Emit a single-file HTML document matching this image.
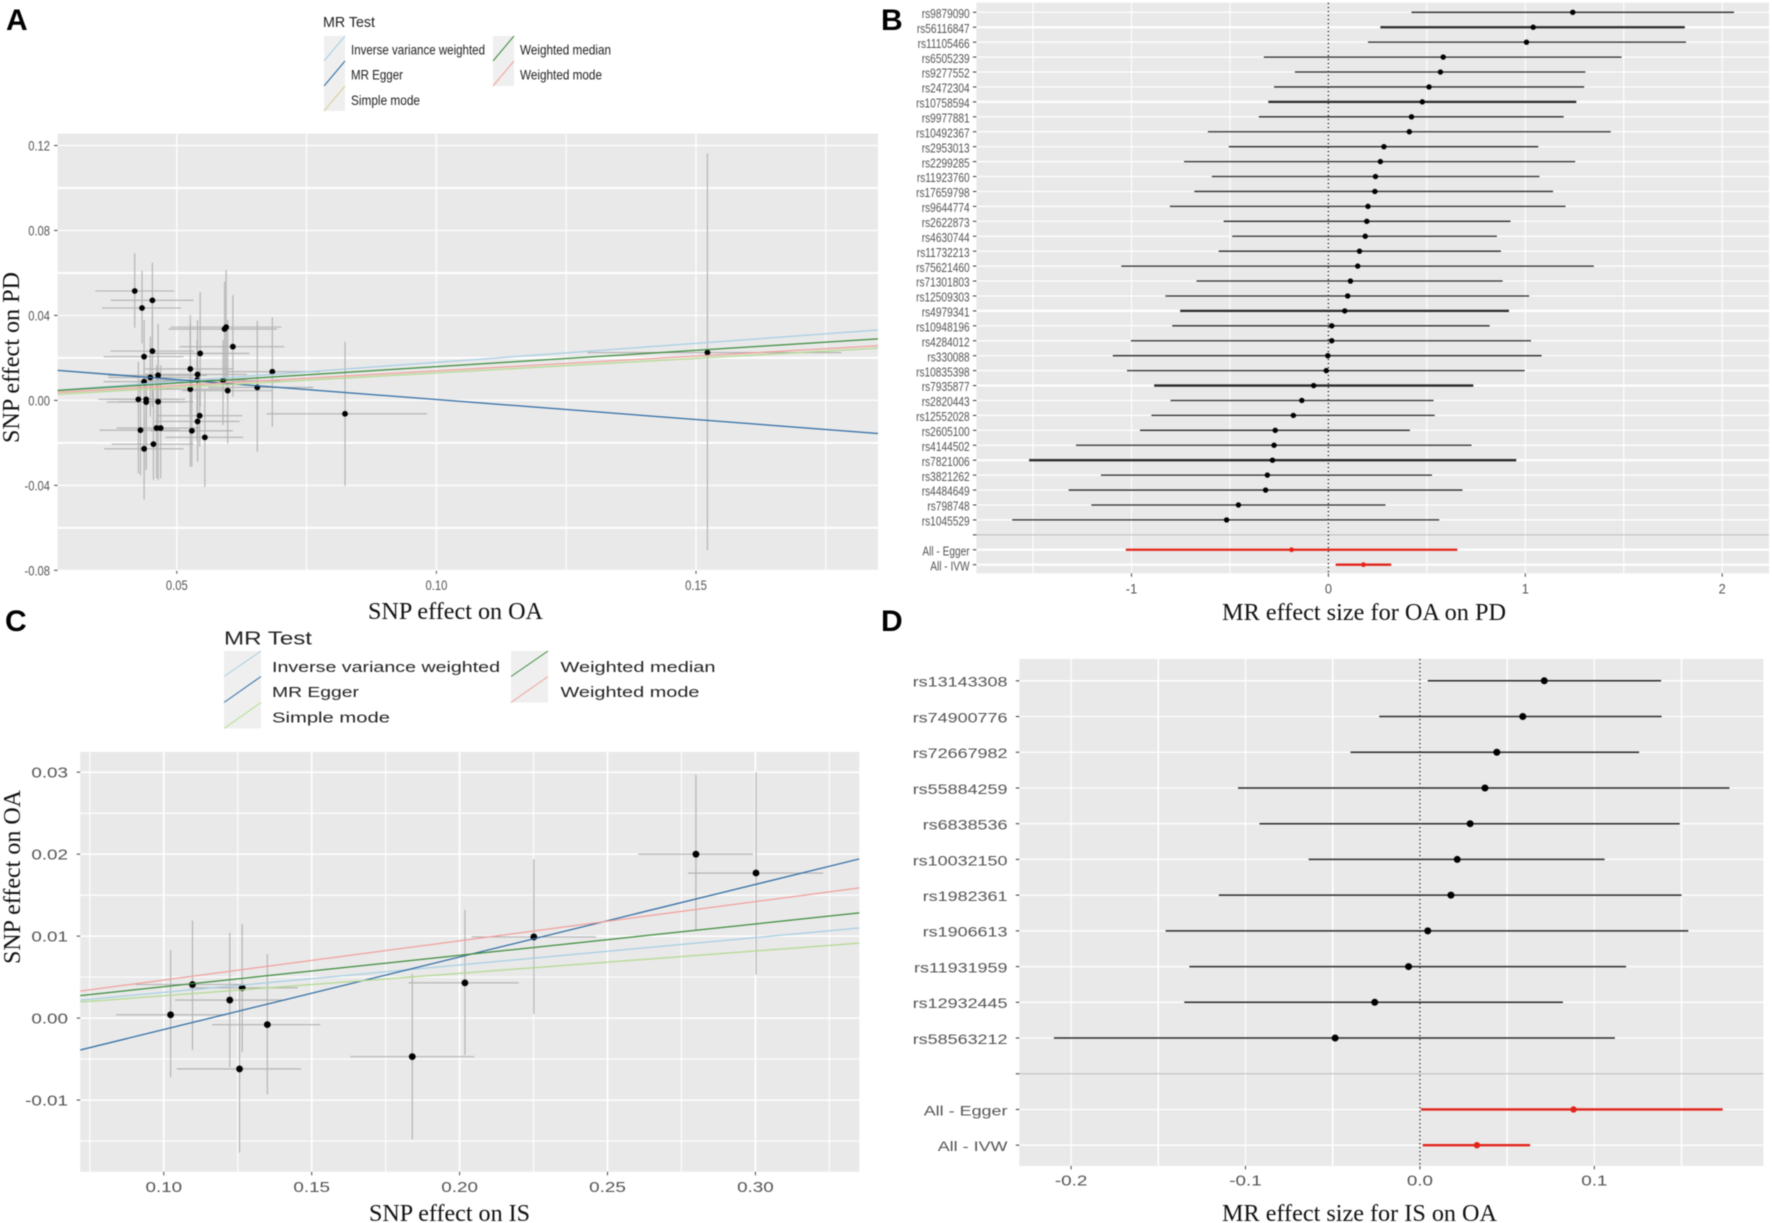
<!DOCTYPE html>
<html lang="en">
<head>
<meta charset="utf-8">
<title>Mendelian randomization scatter and forest plots</title>
<style>
html,body{margin:0;padding:0;background:#fff}
svg{display:block;filter:blur(0.45px)}
.axt{font-family:"Liberation Serif",serif;font-size:24px;fill:#111}
.lg{font-family:"Liberation Sans",sans-serif;fill:#222}
.let{font-family:"Liberation Sans",sans-serif;font-weight:bold;font-size:30px;fill:#000}
</style>
</head>
<body>
<svg id="figure" xmlns="http://www.w3.org/2000/svg" width="1772" height="1223" viewBox="0 0 1772 1223">
  <rect width="1772" height="1223" fill="#fff"/>

  <text class="let" x="6" y="30">A</text>
  <text class="let" x="881" y="30">B</text>
  <text class="let" x="5" y="631">C</text>
  <text class="let" x="881" y="631">D</text>

  <g>
    <text class="lg" x="323" y="27" font-size="15" textLength="52" lengthAdjust="spacingAndGlyphs">MR Test</text>
    <g>
      <rect x="324" y="36" width="21" height="25" fill="#efefef"/>
      <line x1="324" y1="61" x2="345" y2="36" stroke="#a6cee3" stroke-width="1"/>
      <text class="lg" x="351" y="54.5" font-size="14" textLength="134" lengthAdjust="spacingAndGlyphs">Inverse variance weighted</text>
    </g>
    <g>
      <rect x="324" y="61" width="21" height="25" fill="#efefef"/>
      <line x1="324" y1="86" x2="345" y2="61" stroke="#2f6ca3" stroke-width="1"/>
      <text class="lg" x="351" y="79.7" font-size="14" textLength="52" lengthAdjust="spacingAndGlyphs">MR Egger</text>
    </g>
    <g>
      <rect x="324" y="86" width="21" height="25" fill="#efefef"/>
      <line x1="324" y1="111" x2="345" y2="86" stroke="#d8cf9a" stroke-width="1"/>
      <text class="lg" x="351" y="105" font-size="14" textLength="69" lengthAdjust="spacingAndGlyphs">Simple mode</text>
    </g>
    <g>
      <rect x="493" y="36" width="21" height="25" fill="#efefef"/>
      <line x1="493" y1="61" x2="514" y2="36" stroke="#3c8c3c" stroke-width="1"/>
      <text class="lg" x="520" y="54.5" font-size="14" textLength="91" lengthAdjust="spacingAndGlyphs">Weighted median</text>
    </g>
    <g>
      <rect x="493" y="61" width="21" height="25" fill="#efefef"/>
      <line x1="493" y1="86" x2="514" y2="61" stroke="#f0a09c" stroke-width="1"/>
      <text class="lg" x="520" y="79.7" font-size="14" textLength="82" lengthAdjust="spacingAndGlyphs">Weighted mode</text>
    </g>
  </g>

  <g>
    <text class="lg" x="224" y="644.5" font-size="18" textLength="88" lengthAdjust="spacingAndGlyphs">MR Test</text>
    <g>
      <rect x="224" y="651" width="37" height="25.5" fill="#efefef"/>
      <line x1="224" y1="676.5" x2="261" y2="651" stroke="#a6cee3" stroke-width="1"/>
      <text class="lg" x="272" y="672" font-size="15" textLength="228" lengthAdjust="spacingAndGlyphs">Inverse variance weighted</text>
    </g>
    <g>
      <rect x="224" y="676.5" width="37" height="26" fill="#efefef"/>
      <line x1="224" y1="702.5" x2="261" y2="676.5" stroke="#2f6ca3" stroke-width="1"/>
      <text class="lg" x="272" y="697" font-size="15" textLength="87" lengthAdjust="spacingAndGlyphs">MR Egger</text>
    </g>
    <g>
      <rect x="224" y="702.5" width="37" height="26" fill="#efefef"/>
      <line x1="224" y1="728.5" x2="261" y2="702.5" stroke="#b2df8a" stroke-width="1"/>
      <text class="lg" x="272" y="722.5" font-size="15" textLength="118" lengthAdjust="spacingAndGlyphs">Simple mode</text>
    </g>
    <g>
      <rect x="511" y="651" width="37" height="25.5" fill="#efefef"/>
      <line x1="511" y1="676.5" x2="548" y2="651" stroke="#3c8c3c" stroke-width="1"/>
      <text class="lg" x="560.5" y="672" font-size="15" textLength="155" lengthAdjust="spacingAndGlyphs">Weighted median</text>
    </g>
    <g>
      <rect x="511" y="676.5" width="37" height="26" fill="#efefef"/>
      <line x1="511" y1="702.5" x2="548" y2="676.5" stroke="#f0a09c" stroke-width="1"/>
      <text class="lg" x="560.5" y="697" font-size="15" textLength="139" lengthAdjust="spacingAndGlyphs">Weighted mode</text>
    </g>
  </g>

  <g id="panel-a"></g>
  <g id="panel-b"></g>
  <g id="panel-c"></g>
  <g id="panel-d"></g>

  <text class="axt" x="368" y="619" textLength="175" lengthAdjust="spacingAndGlyphs">SNP effect on OA</text>
  <text class="axt" transform="translate(19,443) rotate(-90)" textLength="171" lengthAdjust="spacingAndGlyphs">SNP effect on PD</text>
  <text class="axt" x="1222" y="620" textLength="284" lengthAdjust="spacingAndGlyphs">MR effect size for OA on PD</text>
  <text class="axt" x="369" y="1221" textLength="161" lengthAdjust="spacingAndGlyphs">SNP effect on IS</text>
  <text class="axt" transform="translate(20,964) rotate(-90)" textLength="174" lengthAdjust="spacingAndGlyphs">SNP effect on OA</text>
  <text class="axt" x="1222" y="1221" textLength="275" lengthAdjust="spacingAndGlyphs">MR effect size for IS on OA</text>
</svg>

<script>
/* ---------- Panel A data ---------- */
const aSnpX = [0.0419,0.0453,0.0433,0.0453,0.0437,0.0545,0.0526,0.0608,0.0595,0.0592,0.0540,0.0464,0.0449,0.0437,0.0539,0.0589,0.0526,0.0598,0.0655,0.0684,0.0824,0.0426,0.0441,0.0441,0.0464,0.0544,0.0540,0.0529,0.0554,0.0430,0.0461,0.0469,0.0455,0.0437,0.1522];
const aSnpY = [0.0515,0.0471,0.0435,0.0232,0.0206,0.0221,0.0148,0.0253,0.0345,0.0336,0.0122,0.0118,0.0108,0.0088,0.0096,0.0093,0.0053,0.0046,0.0061,0.0135,-0.0063,0.0005,0.0005,-0.0008,-0.0006,-0.0072,-0.0099,-0.0143,-0.0174,-0.0140,-0.0130,-0.0130,-0.0206,-0.0228,0.0225];
const aXLow = [0.0343,0.0373,0.0356,0.0372,0.0359,0.0452,0.0439,0.0505,0.0488,0.0484,0.0442,0.0368,0.0368,0.0359,0.0436,0.0474,0.0449,0.0510,0.0561,0.0596,0.0673,0.0349,0.0365,0.0365,0.0388,0.0461,0.0458,0.0449,0.0478,0.0351,0.0384,0.0394,0.0375,0.0360,0.1291];
const aXHigh = [0.0495,0.0532,0.0508,0.0533,0.0513,0.0640,0.0609,0.0707,0.0701,0.0693,0.0635,0.0558,0.0532,0.0513,0.0635,0.0699,0.0603,0.0683,0.0763,0.0776,0.0982,0.0503,0.0516,0.0516,0.0532,0.0626,0.0621,0.0608,0.0628,0.0505,0.0539,0.0545,0.0532,0.0513,0.1780];
const aYLow = [0.0342,0.0221,0.0268,-0.0030,0.0033,-0.0030,-0.0061,0.0017,0.0080,0.0096,-0.0281,-0.0124,-0.0077,-0.0344,-0.0187,-0.0116,-0.0312,-0.0203,-0.0242,-0.0124,-0.0402,-0.0344,-0.0328,-0.0312,-0.0375,-0.0218,-0.0289,-0.0312,-0.0407,-0.0352,-0.0367,-0.0367,-0.0375,-0.0466,-0.0705];
const aYHigh = [0.0692,0.0648,0.0611,0.0432,0.0378,0.0509,0.0363,0.0496,0.0614,0.0559,0.0378,0.0360,0.0300,0.0182,0.0284,0.0284,0.0402,0.0378,0.0375,0.0391,0.0276,0.0182,0.0127,0.0127,0.0206,0.0143,0.0190,0.0104,0.0046,0.0096,0.0166,0.0166,0.0049,-0.0061,0.1163];
const aXTicks = [0.05,0.10,0.15];
const aXTickLabels = ['0.05','0.10','0.15'];
const aYTicks = [0.12,0.08,0.04,0,-0.04,-0.08];
const aYTickLabels = ['0.12','0.08','0.04','0.00','-0.04','-0.08'];
const mrMethods = ['Inverse variance weighted','MR Egger','Simple mode','Weighted median','Weighted mode'];
const aSlopes = [0.179,-0.1879,0.1373,0.1537,0.139];
const aIntercepts = [0,0.0192,-0.0008,0.0005,0];

/* ---------- Panel B data ---------- */
const bRows = ['rs9879090','rs56116847','rs11105466','rs6505239','rs9277552','rs2472304','rs10758594','rs9977881','rs10492367','rs2953013','rs2299285','rs11923760','rs17659798','rs9644774','rs2622873','rs4630744','rs11732213','rs75621460','rs71301803','rs12509303','rs4979341','rs10948196','rs4284012','rs330088','rs10835398','rs7935877','rs2820443','rs12552028','rs2605100','rs4144502','rs7821006','rs3821262','rs4484649','rs798748','rs1045529','','All - Egger','All - IVW'];
const bEffect = [1.241,1.04,1.006,0.583,0.569,0.511,0.477,0.422,0.411,0.282,0.264,0.239,0.236,0.201,0.195,0.187,0.158,0.149,0.112,0.098,0.083,0.017,0.017,-0.003,-0.011,-0.075,-0.135,-0.178,-0.27,-0.276,-0.284,-0.31,-0.319,-0.457,-0.517,null,-0.187,0.178];
const bLow = [0.422,0.264,0.201,-0.328,-0.17,-0.276,-0.305,-0.353,-0.612,-0.506,-0.733,-0.592,-0.681,-0.805,-0.532,-0.489,-0.557,-1.052,-0.67,-0.828,-0.753,-0.793,-1.003,-1.095,-1.023,-0.885,-0.802,-0.899,-0.957,-1.282,-1.52,-1.155,-1.319,-1.204,-1.606,null,-1.029,0.037];
const bHigh = [2.06,1.81,1.816,1.489,1.305,1.299,1.259,1.195,1.434,1.066,1.253,1.072,1.141,1.204,0.925,0.856,0.876,1.348,0.885,1.02,0.917,0.819,1.029,1.083,0.997,0.736,0.534,0.54,0.414,0.727,0.954,0.526,0.681,0.29,0.563,null,0.655,0.319];
const bHeavyRows = ['rs56116847','rs10758594','rs4979341','rs7935877','rs7821006','All - Egger','All - IVW'];
const bXTicks = [-1,0,1,2];
const bXTickLabels = ['-1','0','1','2'];

/* ---------- Panel C data ---------- */
const cSnpX = [0.1023,0.1097,0.1223,0.1265,0.135,0.1256,0.184,0.2018,0.2251,0.2799,0.3002];
const cSnpY = [0.0004,0.0041,0.0022,0.0037,-0.0008,-0.0062,-0.0047,0.0043,0.0099,0.02,0.0177];
const cXLow = [0.0838,0.0905,0.1038,0.1086,0.1163,0.1044,0.163,0.1827,0.204,0.2604,0.2772];
const cXHigh = [0.121,0.1296,0.1411,0.1453,0.1529,0.1464,0.205,0.22,0.2461,0.2992,0.3229];
const cYLow = [-0.0072,-0.0039,-0.006,-0.0041,-0.0093,-0.0164,-0.0148,-0.0045,0.0005,0.0107,0.0053];
const cYHigh = [0.0083,0.0119,0.0104,0.0115,0.0078,0.004,0.0054,0.0132,0.0194,0.0297,0.03];
const cXTicks = [0.10,0.15,0.20,0.25,0.30];
const cXTickLabels = ['0.10','0.15','0.20','0.25','0.30'];
const cYTicks = [0.03,0.02,0.01,0,-0.01];
const cYTickLabels = ['0.03','0.02','0.01','0.00','-0.01'];
const cSlopes = [0.0334,0.0885,0.0273,0.0383,0.0478];
const cIntercepts = [-0.0002,-0.01024,0,0,-0.00013];

/* ---------- Panel D data ---------- */
const dRows = ['rs13143308','rs74900776','rs72667982','rs55884259','rs6838536','rs10032150','rs1982361','rs1906613','rs11931959','rs12932445','rs58563212','','All - Egger','All - IVW'];
const dEffect = [0.0713,0.059,0.0441,0.0373,0.0288,0.0214,0.0178,0.0045,-0.0065,-0.0259,-0.0486,null,0.0881,0.0327];
const dLow = [0.0045,-0.0233,-0.0398,-0.1043,-0.092,-0.0638,-0.1153,-0.1458,-0.1322,-0.1351,-0.2099,null,0.0006,0.0016];
const dHigh = [0.1383,0.1386,0.1257,0.1775,0.149,0.1059,0.15,0.1539,0.1182,0.082,0.1118,null,0.1736,0.0632];
const dHeavyRows = ['All - Egger','All - IVW'];
const dXTicks = [-0.2,-0.1,0,0.1];
const dXTickLabels = ['-0.2','-0.1','0.0','0.1'];

const methodColors = {'Inverse variance weighted':'#a6cee3','MR Egger':'#2f6ca3','Simple mode':'#b2d98f','Weighted median':'#3c8c3c','Weighted mode':'#f0a09c'};
const NS = 'http://www.w3.org/2000/svg';

function linear(d0, d1, r0, r1) {
  return function (v) { return r0 + (v - d0) / (d1 - d0) * (r1 - r0); };
}
function make(tag, parent, attrs) {
  const node = document.createElementNS(NS, tag);
  Object.keys(attrs).forEach(function (k) { node.setAttribute(k, attrs[k]); });
  parent.appendChild(node);
  return node;
}
function halfSteps(ticks, lo, hi) {
  const step = Math.abs(ticks[1] - ticks[0]);
  const out = [];
  const sorted = ticks.slice().sort(function (a, b) { return a - b; });
  for (let v = sorted[0] - step / 2; v >= lo; v -= step) out.push(v);
  sorted.forEach(function (t) { if (t + step / 2 <= hi) out.push(t + step / 2); });
  return out;
}
function labelAt(parent, x, y, str, anchor, size, sx) {
  const el = make('text', parent, {
    transform: 'translate(' + x + ',' + y + ') scale(' + sx + ',1)',
    'text-anchor': anchor,
    'font-family': '"Liberation Sans",sans-serif',
    'font-size': size,
    fill: '#555'
  });
  el.textContent = str;
  return el;
}

function drawBase(root, cfg) {
  const bg = make('rect', root, {x: cfg.left, y: cfg.top, width: cfg.right - cfg.left, height: cfg.bottom - cfg.top, fill: '#e9e9e9'});
  
  

  halfSteps(cfg.xTicks, cfg.xMin, cfg.xMax).forEach(function (v) {
    const el = make('line', root, {x1: cfg.x(v), x2: cfg.x(v), y1: cfg.top, y2: cfg.bottom, stroke: '#fff', 'stroke-width': cfg.xMinorW});
    
    
  });
  cfg.xTicks.forEach(function (v, i) {
    const px = cfg.x(v);
    const grid = make('line', root, {x1: px, x2: px, y1: cfg.top, y2: cfg.bottom, stroke: '#fff', 'stroke-width': cfg.xMajorW});
    
    
    const tick = make('line', root, {x1: px, x2: px, y1: cfg.bottom, y2: cfg.bottom + 3.5, stroke: '#444', 'stroke-width': 1});
    
    
    const lab = labelAt(root, px, cfg.xLabelY, cfg.xTickLabels[i], 'middle', cfg.tickSize, cfg.tickScale);
    
    
  });
}

function drawScatter(root, cfg) {
  drawBase(root, cfg);
  halfSteps(cfg.yTicks, cfg.yMin, cfg.yMax).forEach(function (v) {
    const el = make('line', root, {x1: cfg.left, x2: cfg.right, y1: cfg.y(v), y2: cfg.y(v), stroke: '#fff', 'stroke-width': cfg.yMinorW});
    
    
  });
  cfg.yTicks.forEach(function (v, i) {
    const py = cfg.y(v);
    const grid = make('line', root, {x1: cfg.left, x2: cfg.right, y1: py, y2: py, stroke: '#fff', 'stroke-width': cfg.yMajorW});
    
    
    const tick = make('line', root, {x1: cfg.left - 3.5, x2: cfg.left, y1: py, y2: py, stroke: '#444', 'stroke-width': 1});
    
    
    const lab = labelAt(root, cfg.yLabelX, py + cfg.tickSize * 0.36, cfg.yTickLabels[i], 'end', cfg.tickSize, cfg.tickScale);
    
    
  });
  cfg.snpX.forEach(function (xv, i) {
    const h = make('line', root, {x1: cfg.x(cfg.xLow[i]), x2: cfg.x(cfg.xHigh[i]), y1: cfg.y(cfg.snpY[i]), y2: cfg.y(cfg.snpY[i]), stroke: '#b0b0b0', 'stroke-width': 1.1});
    
    
    const v = make('line', root, {x1: cfg.x(xv), x2: cfg.x(xv), y1: cfg.y(cfg.yLow[i]), y2: cfg.y(cfg.yHigh[i]), stroke: '#b0b0b0', 'stroke-width': 1.1});
    
    
  });
  cfg.snpX.forEach(function (xv, i) {
    const p = make('circle', root, {cx: cfg.x(xv), cy: cfg.y(cfg.snpY[i]), r: cfg.pointR, fill: '#000'});
    
    
  });
  cfg.methods.forEach(function (m, i) {
    const fn = function (v) { return cfg.intercepts[i] + cfg.slopes[i] * v; };
    const l = make('line', root, {x1: cfg.left, x2: cfg.right, y1: cfg.y(fn(cfg.xMin)), y2: cfg.y(fn(cfg.xMax)), stroke: methodColors[m], 'stroke-width': 1.25});
    
    
  });
}

function drawForest(root, cfg) {
  drawBase(root, cfg);
  const rowY = linear(0, cfg.rows.length - 1, cfg.firstRowY, cfg.lastRowY);
  cfg.rows.forEach(function (name, i) {
    const py = rowY(i);
    const heavy = cfg.heavy.indexOf(name) >= 0;
    if (name !== '') {
      const grid = make('line', root, {x1: cfg.left, x2: cfg.right, y1: py, y2: py, stroke: '#fff', 'stroke-width': heavy ? cfg.rowGridHeavy : cfg.rowGrid});
      
      
    } else {
      const sep = make('line', root, {x1: cfg.left, x2: cfg.right, y1: py, y2: py, stroke: '#bdbdc4', 'stroke-width': 1});
      
      
    }
    const tick = make('line', root, {x1: cfg.left - 3.5, x2: cfg.left, y1: py, y2: py, stroke: '#333', 'stroke-width': 1});
    
    
    const lab = labelAt(root, cfg.labelX, py + cfg.labelSize * 0.36 + 1, name, 'end', cfg.labelSize, cfg.labelScale);
    
    
  });
  const zero = make('line', root, {x1: cfg.x(0), x2: cfg.x(0), y1: cfg.top, y2: cfg.bottom, stroke: '#222', 'stroke-width': 1.2, 'stroke-dasharray': '1.5 2.5'});
  
  
  cfg.rows.forEach(function (name, i) {
    if (cfg.effect[i] === null) return;
    const py = rowY(i);
    const isSummary = name.indexOf('All') === 0;
    const heavy = cfg.heavy.indexOf(name) >= 0;
    const color = isSummary ? '#e3241b' : '#2a2a2a';
    const ci = make('line', root, {x1: cfg.x(cfg.low[i]), x2: cfg.x(cfg.high[i]), y1: py, y2: py, stroke: color, 'stroke-width': heavy ? cfg.ciHeavy : cfg.ci});
    
    
    const dot = make('circle', root, {cx: cfg.x(cfg.effect[i]), cy: py, r: isSummary ? cfg.pointR - 0.3 : cfg.pointR, fill: isSummary ? '#e3241b' : '#000'});
    
    
  });
}

drawScatter(document.getElementById('panel-a'), {
  left: 57.6, right: 878, top: 133.6, bottom: 570.2,
  xMin: 0.02704, xMax: 0.1851, yMin: -0.08, yMax: 0.1257,
  x: linear(0.05, 0.15, 176.8, 696), y: linear(0, 0.12, 400.4, 145.5),
  xTicks: aXTicks, xTickLabels: aXTickLabels, yTicks: aYTicks, yTickLabels: aYTickLabels,
  xMinorW: 1.1, xMajorW: 1.3, yMinorW: 2, yMajorW: 1.2,
  xLabelY: 590, yLabelX: 50, tickSize: 14, tickScale: 0.8, pointR: 2.9,
  snpX: aSnpX, snpY: aSnpY, xLow: aXLow, xHigh: aXHigh, yLow: aYLow, yHigh: aYHigh,
  methods: mrMethods, slopes: aSlopes, intercepts: aIntercepts
});

drawForest(document.getElementById('panel-b'), {
  left: 976.4, right: 1769, top: 2.7, bottom: 573.3,
  xMin: -1.788, xMax: 2.238,
  x: linear(0, 1, 1328.4, 1525.3),
  xTicks: bXTicks, xTickLabels: bXTickLabels,
  xMinorW: 1.1, xMajorW: 1.1, xLabelY: 593.5, tickSize: 13.5, tickScale: 0.95,
  rows: bRows, effect: bEffect, low: bLow, high: bHigh, heavy: bHeavyRows,
  firstRowY: 12.3, lastRowY: 564.7, rowGrid: 1.2, rowGridHeavy: 2.2,
  labelX: 969.6, labelSize: 13, labelScale: 0.78, ci: 1.3, ciHeavy: 2.3, pointR: 2.7
});

drawScatter(document.getElementById('panel-c'), {
  left: 80.2, right: 859.3, top: 751.9, bottom: 1171.8,
  xMin: 0.0717, xMax: 0.3351, yMin: -0.01874, yMax: 0.03246,
  x: linear(0.10, 0.30, 163.8, 755.4), y: linear(0, 0.03, 1018.1, 772.2),
  xTicks: cXTicks, xTickLabels: cXTickLabels, yTicks: cYTicks, yTickLabels: cYTickLabels,
  xMinorW: 1.1, xMajorW: 1.7, yMinorW: 1.1, yMajorW: 1.5,
  xLabelY: 1192, yLabelX: 68, tickSize: 14.5, tickScale: 1.3, pointR: 3.4,
  snpX: cSnpX, snpY: cSnpY, xLow: cXLow, xHigh: cXHigh, yLow: cYLow, yHigh: cYHigh,
  methods: mrMethods, slopes: cSlopes, intercepts: cIntercepts
});

drawForest(document.getElementById('panel-d'), {
  left: 1019.3, right: 1763.4, top: 658.9, bottom: 1165.9,
  xMin: -0.2297, xMax: 0.197,
  x: linear(0, 0.1, 1419.9, 1594.3),
  xTicks: dXTicks, xTickLabels: dXTickLabels,
  xMinorW: 1.5, xMajorW: 1.2, xLabelY: 1185.5, tickSize: 14.5, tickScale: 1.3,
  rows: dRows, effect: dEffect, low: dLow, high: dHigh, heavy: dHeavyRows,
  firstRowY: 680.8, lastRowY: 1145.2, rowGrid: 1.3, rowGridHeavy: 1.3,
  labelX: 1007.5, labelSize: 13.5, labelScale: 1.33, ci: 1.5, ciHeavy: 2.4, pointR: 3.5
});
</script>
</body>
</html>
